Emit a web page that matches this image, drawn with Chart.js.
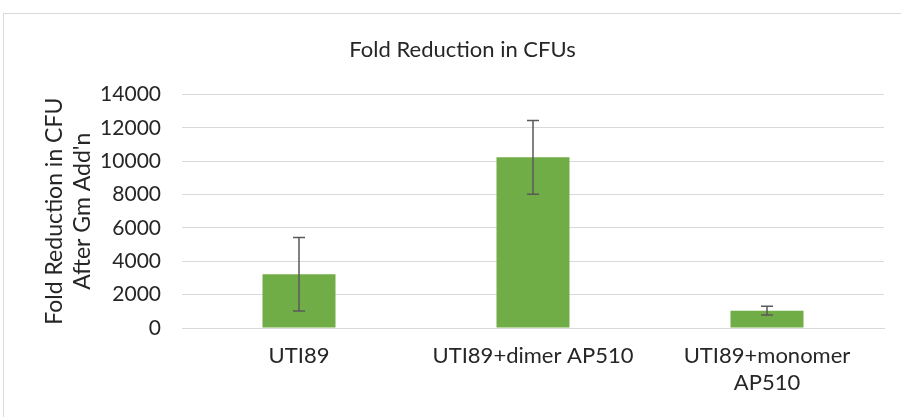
<!DOCTYPE html>
<html lang="en">
<head>
    <meta charset="UTF-8">
    <title>Fold Reduction in CFUs</title>
    <script src="https://cdn.jsdelivr.net/npm/chart.js"></script>
    <style>
        html, body {
            margin: 0;
            padding: 0;
            background: #ffffff;
            overflow: hidden;
        }
        .frame {
            position: absolute;
            left: 3px;
            top: 13px;
            width: 960px;
            height: 460px;
            border: 1px solid #d9d9d9;
        }
        .wrap {
            position: absolute;
            left: 0;
            top: 0;
            width: 901px;
            height: 417px;
        }
    </style>
</head>
<body>
<div class="frame"></div>
<div class="wrap">
    <canvas id="cfuChart"></canvas>
</div>

<script>
    // data
    const categories = ['UTI89', 'UTI89+dimer AP510', ['UTI89+monomer', 'AP510']];
    const foldReduction = [3220, 10230, 1040];
    const errorAmount = [2200, 2210, 260];
    const yTicks = [0, 2000, 4000, 6000, 8000, 10000, 12000, 14000];

    const textColor = '#262626';
    const fontFamily = 'Lato, "Open Sans", sans-serif';

    // simple +/- error bars drawn on top of the bars
    const errorBars = {
        id: 'errorBars',
        afterDatasetsDraw(chart) {
            const ctx = chart.ctx;
            const y = chart.scales.y;
            const meta = chart.getDatasetMeta(0);
            ctx.save();
            ctx.strokeStyle = '#595959';
            ctx.lineWidth = 1.5;
            meta.data.forEach((bar, i) => {
                const top = y.getPixelForValue(foldReduction[i] + errorAmount[i]);
                const bottom = y.getPixelForValue(foldReduction[i] - errorAmount[i]);
                const half = 6;
                ctx.beginPath();
                ctx.moveTo(bar.x, top);
                ctx.lineTo(bar.x, bottom);
                ctx.moveTo(bar.x - half, top);
                ctx.lineTo(bar.x + half, top);
                ctx.moveTo(bar.x - half, bottom);
                ctx.lineTo(bar.x + half, bottom);
                ctx.stroke();
            });
            ctx.restore();
        }
    };

    const ctx = document.getElementById('cfuChart').getContext('2d');
    const cfuChart = new Chart(ctx, {
        type: 'bar',
        data: {
            labels: categories,
            datasets: [{
                label: 'Fold Reduction',
                data: foldReduction,
                backgroundColor: '#70ad47',
                barPercentage: 1,
                categoryPercentage: 0.312
            }]
        },
        options: {
            responsive: true,
            maintainAspectRatio: false,
            animation: false,
            layout: {
                padding: { left: 41, right: 17, top: 0, bottom: 0 }
            },
            plugins: {
                legend: { display: false },
                tooltip: { enabled: false },
                title: {
                    display: true,
                    text: 'Fold Reduction in CFUs',
                    color: textColor,
                    font: { family: fontFamily, size: 22, weight: 'normal' },
                    padding: { top: 37, bottom: 31 }
                }
            },
            scales: {
                x: {
                    grid: { display: false, drawTicks: false },
                    border: { color: '#d9d9d9' },
                    ticks: {
                        color: textColor,
                        font: { family: fontFamily, size: 22 },
                        padding: 15,
                        maxRotation: 0
                    },
                    afterFit(scale) {
                        scale.height = 89;
                    }
                },
                y: {
                    min: 0,
                    max: 14000,
                    afterBuildTicks(scale) {
                        scale.ticks = yTicks.map(v => ({ value: v }));
                    },
                    grid: { color: '#d9d9d9', drawTicks: false },
                    border: { display: false },
                    ticks: {
                        color: textColor,
                        font: { family: fontFamily, size: 21 },
                        padding: 21,
                        callback: v => String(v)
                    },
                    title: {
                        display: true,
                        text: ['Fold Reduction in CFU', "After Gm Add'n"],
                        color: textColor,
                        font: { family: fontFamily, size: 23 },
                        padding: { top: 0, bottom: 0 }
                    },
                    afterFit(scale) {
                        scale.width = 141;
                    }
                }
            }
        },
        plugins: [errorBars]
    });
</script>
</body>
</html>
